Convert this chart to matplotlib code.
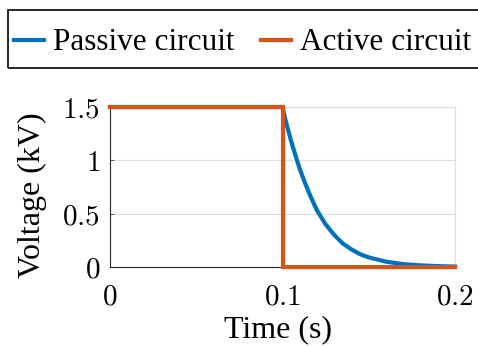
import matplotlib
matplotlib.use("Agg")
import matplotlib.pyplot as plt
from matplotlib.patches import Rectangle

# Data
t_passive = [0.0, 0.1, 0.102, 0.105, 0.108, 0.11, 0.113, 0.115, 0.118, 0.12, 0.125,
             0.13, 0.135, 0.14, 0.145, 0.15, 0.16, 0.17, 0.18, 0.19, 0.2]
v_passive = [1.5, 1.5, 1.36, 1.18, 1.02, 0.92, 0.79, 0.71, 0.6, 0.53, 0.4,
             0.3, 0.22, 0.165, 0.12, 0.09, 0.05, 0.027, 0.015, 0.008, 0.004]
t_active = [0.0, 0.1, 0.1, 0.2]
v_active = [1.5, 1.5, 0.0, 0.0]

x_ticks = [0, 0.1, 0.2]
x_ticklabels = ["0", "0.1", "0.2"]
y_ticks = [0, 0.5, 1, 1.5]
y_ticklabels = ["0", "0.5", "1", "1.5"]

series_names = ["Passive circuit", "Active circuit"]
blue = "#0072BD"
orange = "#D95319"

plt.rcParams["mathtext.fontset"] = "cm"
serif = ["Liberation Serif", "DejaVu Serif"]

W, H = 478, 346
fig = plt.figure(figsize=(W/100, H/100), dpi=100)
ax = fig.add_axes([110/W, 1-267/H, (455-110)/W, (267-107)/H])

l1, = ax.plot(t_passive, v_passive, color=blue, lw=3, label=series_names[0], clip_on=False, zorder=3)
l2, = ax.plot(t_active, v_active, color=orange, lw=3, label=series_names[1], clip_on=False, zorder=4,
              solid_joinstyle="miter")

ax.set_xlim(0, 0.2)
ax.set_ylim(0, 1.5)
ax.set_xticks(x_ticks)
ax.set_xticklabels(["$" + s + "$" for s in x_ticklabels], fontsize=21)
ax.set_yticks(y_ticks)
ax.set_yticklabels(["$" + s + "$" for s in y_ticklabels], fontsize=21)
ax.tick_params(direction="in", length=3, width=0.6, color="#444444", pad=7)
ax.tick_params(axis="x", pad=11)
ax.yaxis.grid(True, color="#dddddd", lw=0.8)
ax.set_axisbelow(True)
for s in ["top", "right"]:
    ax.spines[s].set_color("#dddddd")
for s in ["left", "bottom"]:
    ax.spines[s].set_color("#262626")
    ax.spines[s].set_linewidth(0.8)

ax.set_xlabel("Time (s)", fontsize=23, family=serif)
ax.xaxis.set_label_coords(0.487, -0.30)
ax.set_ylabel("Voltage (kV)", fontsize=23, family=serif)
ax.yaxis.set_label_coords(-0.183, 0.45)

# legend frame (extends past the right edge as in the reference)
fig.patches.append(Rectangle((8/W, 1-68/H), 1.0, 58/H, transform=fig.transFigure,
                             fill=False, edgecolor="black", lw=1.2))
leg = fig.legend(handles=[l1, l2], loc="center left", bbox_to_anchor=(14/W, 1-43/H),
                 ncol=2, frameon=False,
                 prop={"family": serif, "size": 22.5}, handlelength=0.95, handletextpad=0.3,
                 columnspacing=0.85, borderpad=0.0, borderaxespad=0)

fig.savefig("out.png", dpi=100)
